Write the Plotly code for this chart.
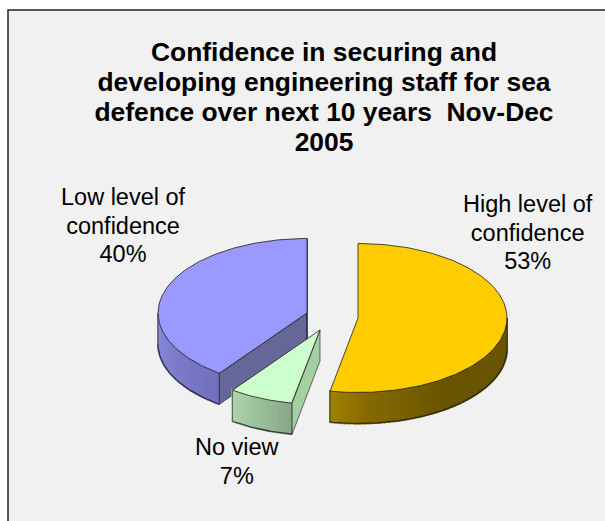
import numpy as np
import plotly.graph_objects as go

categories = [["High level of", "confidence"], ["No view"], ["Low level of", "confidence"]]
values = [53, 7, 40]
title_lines = ["Confidence in securing and", "developing engineering staff for sea",
               "defence over next 10 years  Nov-Dec", "2005"]

# layout / style (pixel-space axes)
W, H = 605, 521
RX, RY, DEPTH = 149, 74.5, 31
centers = [(358, 318), (320, 330), (307, 313)]
top_colors = ["#FFCC00", "#CCFFCC", "#9999FF"]
wall_stops = [
    [(0, (104, 84, 0)), (0.55, (106, 85, 0)), (0.85, (132, 105, 0)), (1, (160, 128, 0))],
    [(0, (136, 170, 136)), (1, (172, 210, 172))],
    [(0, (112, 112, 188)), (1, (140, 140, 224))],
]
cut_colors = ["#2A2A55", "#A3CFA3", "#666699"]
EDGE = "rgba(30,30,30,0.8)"
label_pos = [(528, 232), (237, 461), (123, 225)]


def sized(lines, px):
    return "<br>".join(f'<span style="font-size:{px}px">{s}</span>' for s in lines)


fig = go.Figure()


def pt(c, th, dz=0):
    return c[0] + RX * np.sin(th), c[1] - RY * np.cos(th) + dz


def poly(xs, ys, fill=None, line=EDGE, lw=1.0):
    fig.add_trace(go.Scatter(
        x=list(xs), y=list(ys), mode="lines", fill="toself" if fill else None,
        fillcolor=fill, line=dict(color=line if line else fill, width=lw),
        hoverinfo="skip", showlegend=False))


def lerp(stops, t):
    for (a, ca), (b, cb) in zip(stops, stops[1:]):
        if t <= b:
            f = (t - a) / (b - a)
            return "rgb(%d,%d,%d)" % tuple(ca[i] + f * (cb[i] - ca[i]) for i in range(3))
    return "rgb(%d,%d,%d)" % stops[-1][1]


def draw_slice(i, th0, th1):
    c = centers[i]
    a0, a1 = max(th0, np.pi / 2), min(th1, 3 * np.pi / 2)
    if a1 > a0:
        n = max(10, int((a1 - a0) * 30))
        edges = np.linspace(a0, a1, n + 1)
        for k in range(n):
            arc = np.linspace(edges[k], edges[k + 1], 4)
            x, y = pt(c, arc)
            t = k / max(n - 1, 1)
            col = lerp(wall_stops[i], t)
            poly(list(x) + list(x[::-1]), list(y) + list(y[::-1] + DEPTH), fill=col, line=col, lw=2.0)
        arc = np.linspace(a0, a1, 80)
        x, y = pt(c, arc, DEPTH)
        poly(x, y, lw=1.3)
        for a in (a0, a1):
            x, y = pt(c, a)
            poly([x, x], [y, y + DEPTH], lw=0.8)
    if i in (1, 2):
        x, y = pt(c, th0)
        poly([c[0], x, x, c[0], c[0]], [c[1], y, y + DEPTH, c[1] + DEPTH, c[1]], fill=cut_colors[i], lw=0.8)
    if i == 2:
        poly([c[0], c[0]], [c[1] - RY, c[1] + DEPTH], line=cut_colors[0], lw=1.6)
    arc = np.linspace(th0, th1, 160)
    x, y = pt(c, arc)
    poly([c[0], *x, c[0]], [c[1], *y, c[1]], fill=top_colors[i], lw=1.0)


bounds = 2 * np.pi * np.cumsum([0] + values) / sum(values)
for i in (2, 0, 1):
    draw_slice(i, bounds[i], bounds[i + 1])

annotations = []
for name, v, (lx, ly) in zip(categories, values, label_pos):
    annotations.append(dict(x=lx, y=ly, xref="x", yref="y", showarrow=False, align="center",
                            text=sized([*name, f"{v}%"], 23.5),
                            font=dict(family="Liberation Sans", size=22, color="#000")))

fig.update_layout(
    width=W, height=H, autosize=False,
    margin=dict(l=0, r=0, t=0, b=0),
    paper_bgcolor="#FFFFFF", plot_bgcolor="#FFFFFF",
    xaxis=dict(range=[0, W], visible=False, fixedrange=True),
    yaxis=dict(range=[H, 0], visible=False, fixedrange=True),
    showlegend=False,
    title=dict(text=sized(title_lines, 26.4), x=324 / W, xanchor="center", xref="paper",
               y=1 - 61 / H, yanchor="middle",
               font=dict(family="Liberation Sans", size=23, color="#000", weight="bold")),
    shapes=[dict(type="rect", xref="x", yref="y", x0=8, y0=10, x1=640, y1=560,
                 fillcolor="#F1F1F1", line=dict(color="#222222", width=1.5), layer="below")],
    annotations=annotations,
)
fig.write_html("out.html", config={"displayModeBar": False},
               post_script="document.body.style.margin='0';document.documentElement.style.overflow='hidden';")
